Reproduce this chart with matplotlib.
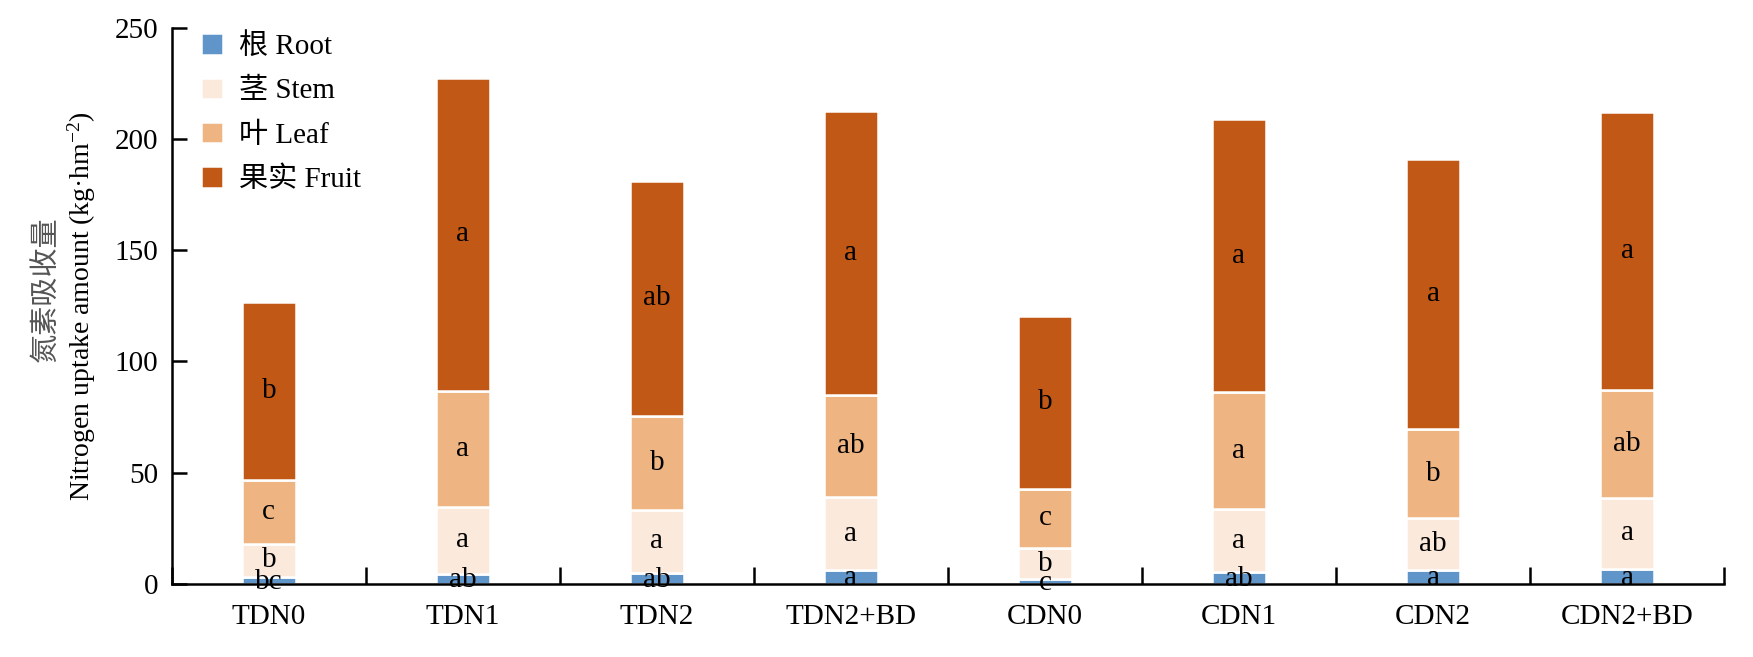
import matplotlib
matplotlib.use("Agg")
import matplotlib.pyplot as plt
import numpy as np

plt.rcParams['font.family'] = ['Liberation Serif', 'Noto Sans CJK SC']
plt.rcParams['mathtext.default'] = 'regular'

# data (kg/hm2)
treatments = ["TDN0", "TDN1", "TDN2", "TDN2+BD", "CDN0", "CDN1", "CDN2", "CDN2+BD"]
root = [3.4, 4.7, 5.0, 6.5, 2.2, 5.4, 6.5, 6.8]
stem = [14.8, 29.8, 28.4, 32.4, 14.0, 28.2, 23.0, 31.9]
leaf = [28.5, 52.4, 42.0, 46.0, 26.6, 52.6, 40.2, 48.4]
fruit = [80.0, 140.6, 105.9, 127.7, 77.6, 122.8, 121.3, 125.2]

# significance letters
root_sig = ["bc", "ab", "ab", "a", "c", "ab", "a", "a"]
stem_sig = ["b", "a", "a", "a", "b", "a", "ab", "a"]
leaf_sig = ["c", "a", "b", "ab", "c", "a", "b", "ab"]
fruit_sig = ["b", "a", "ab", "a", "b", "a", "a", "a"]

parts = [
    ("根 Root", root, root_sig, "#5F95C9"),
    ("茎 Stem", stem, stem_sig, "#FBEADC"),
    ("叶 Leaf", leaf, leaf_sig, "#EEB582"),
    ("果实 Fruit", fruit, fruit_sig, "#C25816"),
]

fig = plt.figure(figsize=(17.53, 6.57), dpi=100)
ax = fig.add_axes([0.098, 0.111, 0.8855, 0.847])

x = np.arange(len(treatments))
bottom = np.zeros(len(treatments))
for k, (label, vals, sig, col) in enumerate(parts):
    vals = np.array(vals)
    ax.bar(x, vals, width=0.28, bottom=bottom, color=col, edgecolor="white",
           linewidth=1.8, label=label)
    # root letters sit a little low, over the axis line
    shift = -0.6 if k == 0 else 0
    for i in range(len(x)):
        ax.text(x[i], bottom[i] + vals[i] / 2 + shift, sig[i], ha="center",
                va="center", fontsize=21, color="black")
    bottom += vals

ax.set_xlim(-0.5, 7.5)
ax.set_ylim(0, 250)
ax.set_yticks([0, 50, 100, 150, 200, 250])
ax.set_xticks(x)
ax.set_xticklabels(treatments)
ax.set_xticks(np.arange(-0.5, 8, 1.0), minor=True)

ax.spines["top"].set_visible(False)
ax.spines["right"].set_visible(False)
ax.spines["left"].set_linewidth(1.8)
ax.spines["bottom"].set_linewidth(1.8)

ax.tick_params(axis="y", direction="in", length=11, width=1.8, labelsize=21, pad=10)
ax.tick_params(axis="x", which="major", length=0, labelsize=21, pad=14)
ax.tick_params(axis="x", which="minor", direction="in", length=12, width=1.8)

ax.text(-0.058, 0.5, "Nitrogen uptake amount (kg·hm$^{-2}$)", transform=ax.transAxes,
        rotation=90, ha="center", va="center", fontsize=20)
ax.text(-0.081, 0.53, "氮素吸收量", transform=ax.transAxes, rotation=90,
        ha="center", va="center", fontsize=21, color="#555555")

ax.legend(loc="upper left", bbox_to_anchor=(0.019, 0.99), frameon=False, fontsize=21,
          handlelength=0.75, handleheight=0.75, handletextpad=0.55,
          labelspacing=0.6, borderpad=0, borderaxespad=0)

fig.savefig("out.png", dpi=100)
